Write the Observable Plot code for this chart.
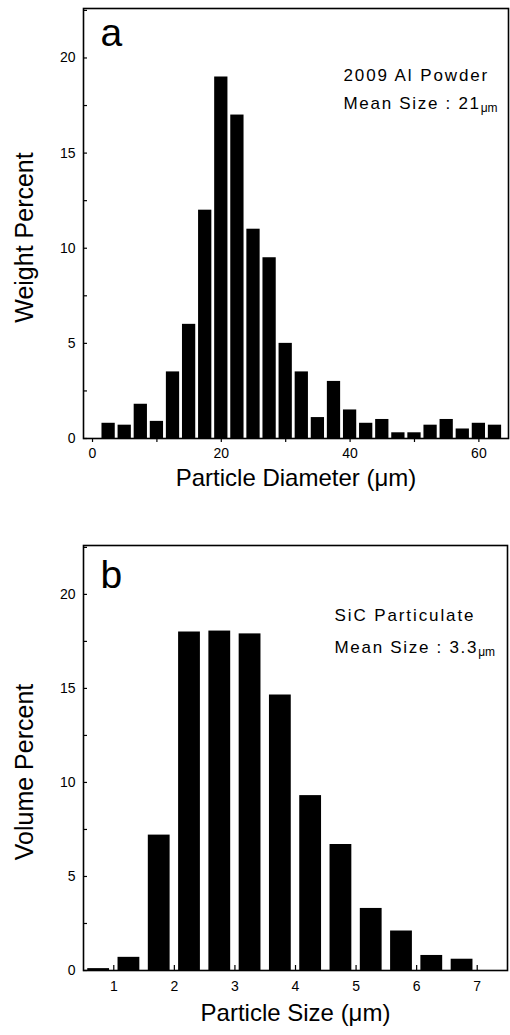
<!DOCTYPE html>
<html><head><meta charset="utf-8">
<script src="https://cdn.jsdelivr.net/npm/d3@7"></script>
<script src="https://cdn.jsdelivr.net/npm/@observablehq/plot@0.6"></script>
<style>body{margin:0;background:#fff} svg{display:block}</style>
</head><body><div id="chart"></div>
<script>
// Panel a: 2009 Al powder, weight percent per particle-diameter bin (µm)
const diameterBins = [2.5,5,7.5,10,12.5,15,17.5,20,22.5,25,27.5,30,32.5,35,37.5,40,42.5,45,47.5,50,52.5,55,57.5,60,62.5];
const weightPercent = [0.8,0.7,1.8,0.9,3.5,6.0,12.0,19.0,17.0,11.0,9.5,5.0,3.5,1.1,3.0,1.5,0.8,1.0,0.3,0.3,0.7,1.0,0.5,0.8,0.7];
// Panel b: SiC particulate, volume percent per particle-size bin (µm)
const sizeBins = [0.75,1.25,1.75,2.25,2.75,3.25,3.75,4.25,4.75,5.25,5.75,6.25,6.75];
const volumePercent = [0.1,0.7,7.2,18.0,18.05,17.9,14.65,9.3,6.7,3.3,2.1,0.8,0.6];
// Tick labels
const yTicks = [0,5,10,15,20];
const yMinorTicks = [0,2.5,5,7.5,10,12.5,15,17.5,20,22.5];
const xTicksA = [0,20,40,60];
const xMinorTicksA = [0,10,20,30,40,50,60];
const xTicksB = [1,2,3,4,5,6,7];

const FONT = "'Liberation Sans', Arial, Helvetica, sans-serif";
const tableA = diameterBins.map((x, i) => ({x, y: weightPercent[i]}));
const tableB = sizeBins.map((x, i) => ({x, y: volumePercent[i]}));

function panel({table, half, xDomain, xTicks, xMinor, xTickInward, xPad, height, mt, mb, mr,
                letter, note1, note2, note2unit, noteDx, noteDy1, noteDy2, yLabel, xLabel, xLabelDy, xLabelDx}) {
  const p = Plot.plot({
    width: 510, height,
    marginTop: mt, marginBottom: mb, marginLeft: 83, marginRight: mr,
    style: {fontFamily: FONT, background: "#fff", color: "#000"},
    x: {domain: xDomain},
    y: {domain: [0, 22.6]},
    marks: [
      Plot.rectY(table, {x1: d => d.x - half, x2: d => d.x + half, y: "y", fill: "#000"}),
      Plot.axisY(yTicks, {tickSize: 0, tickPadding: 8, fontSize: 14, label: null}),
      Plot.axisY(yMinorTicks, {tickSize: -4, tickFormat: () => "", label: null, strokeWidth: 1.2}),
      Plot.axisX(xTicks, {tickSize: 0, tickPadding: xPad, fontSize: 14, label: null}),
      Plot.axisX(xMinor, {tickSize: xTickInward ? -5 : 4, tickFormat: () => "", label: null, strokeWidth: 1.2}),
      Plot.frame({stroke: "#000", strokeWidth: 1.6}),
      Plot.text([letter], {frameAnchor: "top-left", textAnchor: "start", lineAnchor: "bottom", dx: 17, dy: letter === "a" ? 37 : 42, fontSize: 39}),
      Plot.text([note1], {frameAnchor: "top-left", textAnchor: "start", lineAnchor: "bottom", dx: noteDx, dy: noteDy1, fontSize: 17}),
      Plot.text([note2], {frameAnchor: "top-left", textAnchor: "start", lineAnchor: "bottom", dx: noteDx, dy: noteDy2, fontSize: 17}),
      Plot.text([yLabel], {frameAnchor: "left", textAnchor: "middle", lineAnchor: "middle", dx: -59, dy: 14, rotate: -90, fontSize: 25}),
      Plot.text([xLabel], {frameAnchor: "bottom", textAnchor: "middle", lineAnchor: "middle", dy: xLabelDy, dx: xLabelDx, fontSize: 24})
    ]
  });
  const svg = d3.select(p);
  svg.selectAll("text").filter(function() { return this.textContent === note1; })
    .attr("letter-spacing", 1.9);
  svg.selectAll("text").filter(function() { return this.textContent === note2; })
    .attr("letter-spacing", 1.7)
    .append("tspan").attr("font-size", 12).attr("letter-spacing", 0).attr("dy", 3).text(note2unit);
  return p;
}

const chart = document.getElementById("chart");
chart.append(panel({
  table: tableA, half: 1.03, xDomain: [-1.4, 64.6], xTicks: xTicksA, xMinor: xMinorTicksA,
  xTickInward: false, xPad: 10, height: 500, mt: 8, mb: 62, mr: 2,
  letter: "a", note1: "2009 Al Powder", note2: "Mean Size : 21", note2unit: "μm",
  noteDx: 260, noteDy1: 72, noteDy2: 100,
  yLabel: "Weight Percent", xLabel: "Particle Diameter (μm)", xLabelDy: 40, xLabelDx: 0
}));
chart.append(panel({
  table: tableB, half: 0.18, xDomain: [0.5, 7.5], xTicks: xTicksB, xMinor: xTicksB,
  xTickInward: true, xPad: 11, height: 535, mt: 45, mb: 65, mr: 3,
  letter: "b", note1: "SiC Particulate", note2: "Mean Size : 3.3", note2unit: "μm",
  noteDx: 251, noteDy1: 75, noteDy2: 107,
  yLabel: "Volume Percent", xLabel: "Particle Size (μm)", xLabelDy: 43, xLabelDx: 0
}));
</script>
</body></html>
